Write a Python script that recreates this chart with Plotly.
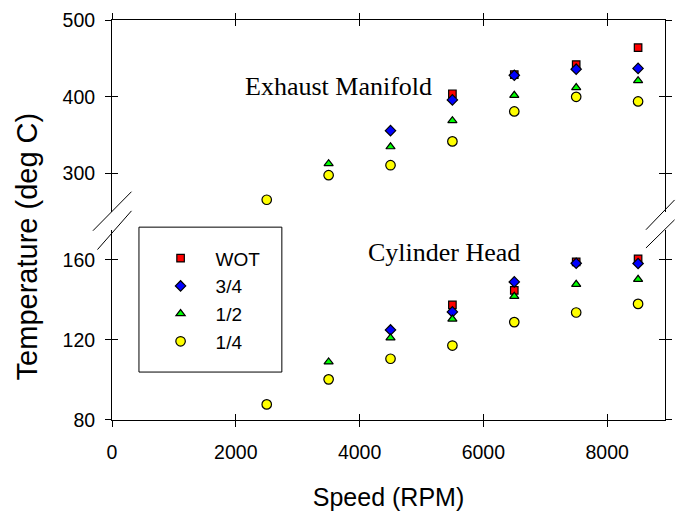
import plotly.graph_objects as go

# ---------------- data ----------------
rpm = [2500, 3500, 4500, 5500, 6500, 7500, 8500]
series_names = ["WOT", "3/4", "1/2", "1/4"]

exh_wot = [None, None, None, 404, 429, 442, 464]
exh_34 = [None, None, 356, 396, 428, 436, 437]
exh_12 = [None, 313, 335, 369, 402, 412, 421]
exh_14 = [266, 298, 311, 342, 381, 400, 394]

cyl_wot = [None, None, None, 137.5, 144.8, 159, 160.5]
cyl_34 = [None, None, 125, 134, 149, 158.3, 158.2]
cyl_12 = [None, 109, 121, 130.4, 141.8, 147.8, 150.3]
cyl_14 = [87.8, 100.3, 110.6, 117.2, 128.9, 133.7, 138]

x_ticks = [0, 2000, 4000, 6000, 8000]
low_ticks = [80, 120, 160]
up_ticks = [300, 400, 500]

# ---------------- styles ----------------
colors = ["#FF0000", "#0000FF", "#00FF00", "#FFFF00"]
symbols = ["square", "diamond", "triangle-up", "circle"]
sizes = [7.5, 8, 8, 9.5]

W, H = 681, 516
L, R, T, B = 112, 9, 17, 96
PW, PH = W - L - R, H - T - B


def px(x):
    return (x - L) / PW


def py(y):
    return (H - B - y) / PH


SANS = "Liberation Sans, Arial, sans-serif"
SERIF = "Liberation Serif, Times New Roman, serif"

fig = go.Figure()

cyl = [cyl_wot, cyl_34, cyl_12, cyl_14]
exh = [exh_wot, exh_34, exh_12, exh_14]

for i, name in enumerate(series_names):
    fig.add_trace(go.Scatter(
        x=rpm, y=cyl[i], mode="markers", name=name,
        marker=dict(symbol=symbols[i], color=colors[i], size=sizes[i],
                    line=dict(color="black", width=1.2)),
        xaxis="x", yaxis="y", showlegend=True))
for i, name in enumerate(series_names):
    fig.add_trace(go.Scatter(
        x=rpm, y=exh[i], mode="markers", name=name,
        marker=dict(symbol=symbols[i], color=colors[i], size=sizes[i],
                    line=dict(color="black", width=1.2)),
        xaxis="x2", yaxis="y2", showlegend=False))

# empty traces registering overlay axes (for ticks crossing the frame)
fig.add_trace(go.Scatter(x=[None], y=[None], xaxis="x3", yaxis="y3",
                         showlegend=False, hoverinfo="skip"))
fig.add_trace(go.Scatter(x=[None], y=[None], xaxis="x4", yaxis="y4",
                         showlegend=False, hoverinfo="skip"))

XR = [0, 8935]
low_dom = [0, py(228.4)]
up_dom = [py(210.5), 1]

common_ax = dict(showgrid=False, zeroline=False, linecolor="black",
                 linewidth=1, tickcolor="black", tickwidth=1, ticklen=6,
                 tickfont=dict(family=SANS, size=19.5, color="black"))

fig.update_layout(
    width=W, height=H,
    margin=dict(l=L, r=R, t=T, b=B, pad=0),
    paper_bgcolor="white", plot_bgcolor="white",
    xaxis=dict(common_ax, range=XR, tickvals=x_ticks, ticks="outside",
               showline=True, anchor="y", domain=[0, 1],
               ticklabelstandoff=9,
               title=dict(text="Speed (RPM)", standoff=26,
                          font=dict(family=SANS, size=25, color="black"))),
    xaxis3=dict(common_ax, range=XR, tickvals=x_ticks, ticks="inside",
                showline=False, showticklabels=False, overlaying="x",
                anchor="y"),
    xaxis2=dict(common_ax, range=XR, tickvals=x_ticks, ticks="outside",
                showline=True, showticklabels=False, anchor="y2", side="top",
                domain=[0, 1]),
    xaxis4=dict(common_ax, range=XR, tickvals=x_ticks, ticks="inside",
                showline=False, showticklabels=False, overlaying="x2",
                anchor="y2", side="top"),
    yaxis=dict(common_ax, range=[80, 175], tickvals=low_ticks,
               ticks="outside", showline=True, mirror="ticks", anchor="x",
               domain=low_dom, ticklabelstandoff=6),
    yaxis3=dict(common_ax, range=[80, 175], tickvals=low_ticks,
                ticks="inside", showline=False, mirror="ticks",
                showticklabels=False, overlaying="y", anchor="x"),
    yaxis2=dict(common_ax, range=[250, 500], tickvals=up_ticks,
                ticks="outside", showline=True, mirror="ticks", anchor="x2",
                domain=up_dom, ticklabelstandoff=6),
    yaxis4=dict(common_ax, range=[250, 500], tickvals=up_ticks,
                ticks="inside", showline=False, mirror="ticks",
                showticklabels=False, overlaying="y2", anchor="x2"),
    legend=dict(x=px(146), y=py(238), xanchor="left", yanchor="top",
                bgcolor="rgba(0,0,0,0)", borderwidth=0, itemwidth=60,
                font=dict(family=SANS, size=19, color="black"),
                tracegroupgap=0),
    showlegend=True,
)

# legend frame
fig.add_shape(type="rect", xref="paper", yref="paper",
              x0=px(139.3), x1=px(284), y0=py(371.7), y1=py(225.7),
              line=dict(color="black", width=1), fillcolor="rgba(0,0,0,0)")

# axis break marks
for (x0, y0, x1, y1) in [(92.7, 229.3, 131.7, 190.0),
                         (97.3, 248.3, 131.7, 209.3),
                         (652.7, 228.3, 681.7, 198.3),
                         (652.7, 246.7, 681.7, 218.3)]:
    fig.add_shape(type="line", xref="paper", yref="paper",
                  x0=px(x0), y0=py(y0), x1=px(x1), y1=py(y1),
                  line=dict(color="black", width=1))

# text labels
fig.add_annotation(text="Exhaust Manifold", xref="paper", yref="paper",
                   x=px(341.7), y=py(83.7), xanchor="center", yanchor="middle",
                   showarrow=False, font=dict(family=SERIF, size=26, color="black"))
fig.add_annotation(text="Cylinder Head", xref="paper", yref="paper",
                   x=px(448.2), y=py(251), xanchor="center", yanchor="middle",
                   showarrow=False, font=dict(family=SERIF, size=26, color="black"))
fig.add_annotation(text="Temperature (deg C)", xref="paper", yref="paper",
                   x=px(26), y=py(245), xanchor="center", yanchor="middle",
                   textangle=-90, showarrow=False,
                   font=dict(family=SANS, size=29, color="black"))

fig.write_html("out.html")
